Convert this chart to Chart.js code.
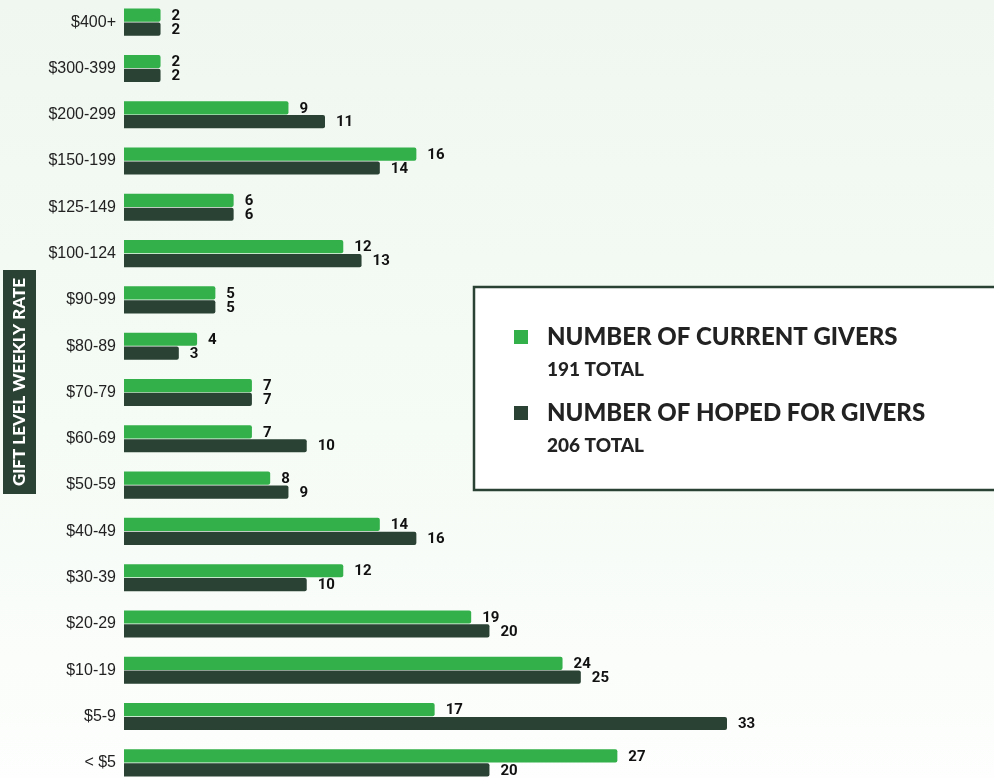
<!DOCTYPE html>
<html>
<head>
<meta charset="utf-8">
<script src="https://cdn.jsdelivr.net/npm/chart.js@4"></script>
<style>
  html, body { margin: 0; padding: 0; }
  body {
    width: 994px; height: 778px; overflow: hidden; position: relative;
    background: linear-gradient(#f0f7f0, #f5fbf5 55%, #fdfefd);
  }
  #wrap { position: absolute; left: 0; top: -1px; width: 994px; height: 787px; }
</style>
</head>
<body>
<div id="wrap"><canvas id="grafico"></canvas></div>
<script>
const faixas = ['$400+', '$300-399', '$200-299', '$150-199', '$125-149', '$100-124', '$90-99', '$80-89',
  '$70-79', '$60-69', '$50-59', '$40-49', '$30-39', '$20-29', '$10-19', '$5-9', '< $5'];
const atuais = [2, 2, 9, 16, 6, 12, 5, 4, 7, 7, 8, 14, 12, 19, 24, 17, 27];
const desejados = [2, 2, 11, 14, 6, 13, 5, 3, 7, 10, 9, 16, 10, 20, 25, 33, 20];
const nomeAtuais = 'NUMBER OF CURRENT GIVERS';
const nomeDesejados = 'NUMBER OF HOPED FOR GIVERS';
const tituloEixo = 'GIFT LEVEL WEEKLY RATE';

const verde = '#33b04a';
const escuro = '#2a4233';

const soma = (arr) => arr.reduce((a, b) => a + b, 0);

// rotulos de valor na ponta de cada barra
const rotulos = {
  id: 'rotulos',
  afterDatasetsDraw(chart) {
    const ctx = chart.ctx;
    ctx.save();
    ctx.font = 'bold 15px "Liberation Sans Narrow", "Roboto", sans-serif';
    ctx.fillStyle = '#111';
    ctx.textBaseline = 'middle';
    ctx.textAlign = 'left';
    chart.data.datasets.forEach((ds, i) => {
      chart.getDatasetMeta(i).data.forEach((bar, j) => {
        ctx.fillText(ds.data[j], bar.x + 11, bar.y + 1);
      });
    });
    ctx.restore();
  }
};

// caixa com titulo vertical e legenda
const extras = {
  id: 'extras',
  afterDraw(chart) {
    const ctx = chart.ctx;
    ctx.save();
    // titulo vertical
    ctx.fillStyle = escuro;
    ctx.fillRect(3, 271, 33, 224);
    ctx.translate(20, 383);
    ctx.rotate(-Math.PI / 2);
    ctx.fillStyle = '#fff';
    ctx.font = '900 17px "Lato", "Open Sans", sans-serif';
    ctx.textAlign = 'center';
    ctx.textBaseline = 'middle';
    ctx.fillText(tituloEixo, 0, 0);
    ctx.restore();

    // legenda
    ctx.save();
    ctx.fillStyle = '#fff';
    ctx.fillRect(474, 288, 530, 203);
    ctx.strokeStyle = escuro;
    ctx.lineWidth = 2.5;
    ctx.strokeRect(474, 288, 540, 203);
    const itens = [
      [verde, nomeAtuais, soma(atuais)],
      [escuro, nomeDesejados, soma(desejados)]
    ];
    itens.forEach(([cor, nome, total], k) => {
      const y0 = 346 + k * 76;
      ctx.fillStyle = cor;
      ctx.fillRect(514, y0 - 15, 14, 14);
      ctx.fillStyle = '#222';
      ctx.textAlign = 'left';
      ctx.textBaseline = 'alphabetic';
      ctx.font = '900 24px "Lato", "Open Sans", sans-serif';
      ctx.fillText(nome, 547, y0);
      ctx.font = '900 19px "Lato", "Open Sans", sans-serif';
      ctx.fillText(total + ' TOTAL', 547, y0 + 31);
    });
    ctx.restore();
  }
};

window.onload = function () {
  const ctx = document.getElementById('grafico');
  new Chart(ctx, {
    type: 'bar',
    data: {
      labels: faixas,
      datasets: [
        { label: nomeAtuais, data: atuais, backgroundColor: verde, borderRadius: 2, borderSkipped: 'start' },
        { label: nomeDesejados, data: desejados, backgroundColor: escuro, borderRadius: 2, borderSkipped: 'start' }
      ]
    },
    options: {
      indexAxis: 'y',
      responsive: true,
      maintainAspectRatio: false,
      animation: false,
      layout: { padding: { left: 0, right: 267, top: 0, bottom: 0 } },
      datasets: { bar: { categoryPercentage: 0.6, barPercentage: 0.95 } },
      scales: {
        x: { display: false, min: 0, max: 33 },
        y: {
          grid: { display: false, drawTicks: false },
          border: { display: false },
          ticks: {
            color: '#222',
            padding: 8,
            font: { family: '"Liberation Sans", Arial, sans-serif', size: 16 }
          },
          afterFit(scale) {
            scale.width = 124;
            scale.paddingTop = 0;
            scale.paddingBottom = 0;
          }
        }
      },
      plugins: {
        legend: { display: false },
        tooltip: { enabled: false }
      }
    },
    plugins: [rotulos, extras]
  });
};
</script>
</body>
</html>
